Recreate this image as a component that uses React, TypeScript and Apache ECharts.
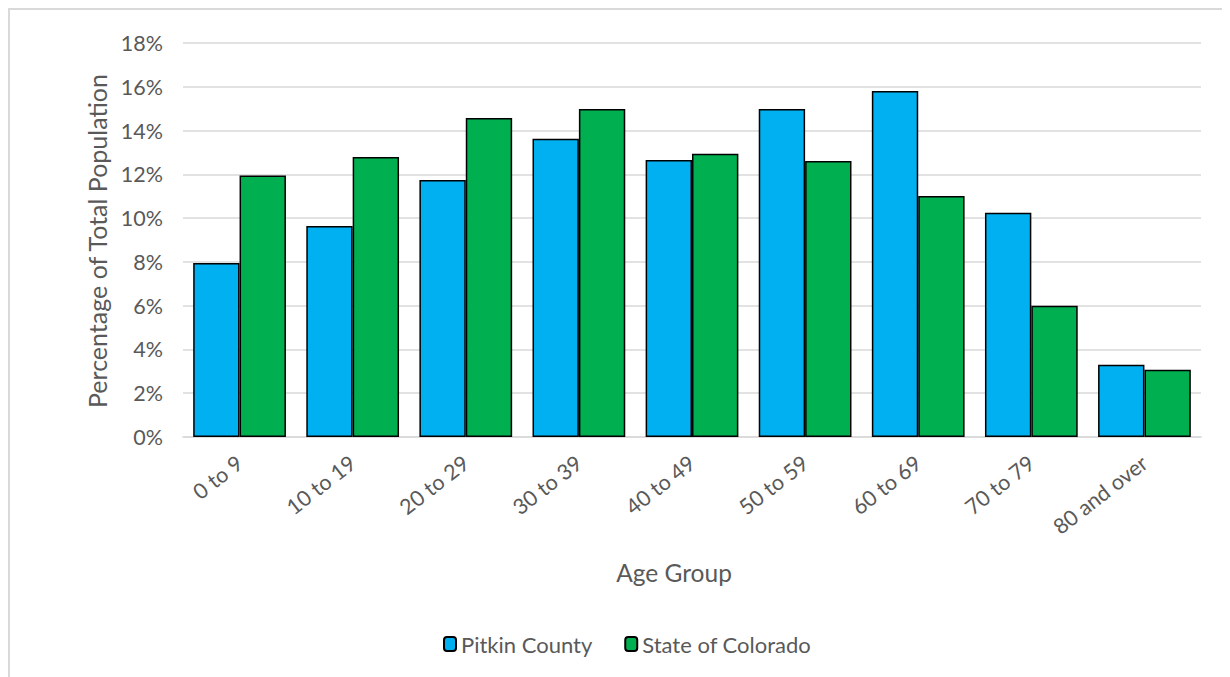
import React, { useEffect, useRef } from "react";
import * as echarts from "echarts";

const categories = ["0 to 9", "10 to 19", "20 to 29", "30 to 39", "40 to 49", "50 to 59", "60 to 69", "70 to 79", "80 and over"];
const pitkin = [7.95, 9.64, 11.74, 13.62, 12.65, 14.98, 15.81, 10.25, 3.3];
const colorado = [11.95, 12.79, 14.57, 14.98, 12.94, 12.61, 11.01, 6.0, 3.07];
const yTicks = { min: 0, max: 18, interval: 2 };

const FONT = "Lato, 'Open Sans', sans-serif";
const TXT = "#595959";

export default function App() {
  const ref = useRef<HTMLDivElement>(null);
  useEffect(() => {
    const chart = echarts.init(ref.current!, undefined, { renderer: "svg" });
    chart.setOption({
      animation: false,
      textStyle: { fontFamily: FONT },
      grid: { left: 175, top: 35, right: 29, bottom: 240, containLabel: false },
      legend: {
        top: 620,
        left: 430,
        itemWidth: 12,
        itemHeight: 14,
        itemGap: 32,
        textStyle: { fontSize: 22, color: TXT, fontFamily: FONT },
        data: ["Pitkin County", "State of Colorado"],
      },
      xAxis: {
        type: "category",
        data: categories,
        axisLine: { lineStyle: { color: "#d9d9d9", width: 1.5 } },
        axisTick: { show: false },
        axisLabel: { rotate: 38, fontSize: 21.5, color: TXT, margin: 23, interval: 0 },
      },
      yAxis: {
        type: "value",
        min: yTicks.min,
        max: yTicks.max,
        interval: yTicks.interval,
        axisLine: { show: false },
        axisTick: { show: false },
        axisLabel: { formatter: "{value}%", fontSize: 21.5, color: TXT, margin: 20 },
        splitLine: { lineStyle: { color: "#d9d9d9", width: 1.5 } },
      },
      series: [
        {
          name: "Pitkin County",
          type: "bar",
          data: pitkin,
          barGap: "0%",
          barCategoryGap: "18%",
          itemStyle: { color: "#00B0F0", borderColor: "#000", borderWidth: 1.5 },
        },
        {
          name: "State of Colorado",
          type: "bar",
          data: colorado,
          barGap: "0%",
          barCategoryGap: "18%",
          itemStyle: { color: "#00B050", borderColor: "#000", borderWidth: 1.5 },
        },
      ],
      graphic: [
        { type: "line", shape: { x1: 1, y1: 0, x2: 1, y2: 669 }, style: { stroke: "#d9d9d9", lineWidth: 2 } },
        { type: "line", shape: { x1: 0, y1: 1, x2: 1222, y2: 1 }, style: { stroke: "#d9d9d9", lineWidth: 2 } },
        {
          type: "text",
          x: 89,
          y: 233,
          rotation: Math.PI / 2,
          style: { text: "Percentage of Total Population", fill: TXT, fontSize: 25, fontFamily: FONT, align: "center", verticalAlign: "middle" },
        },
        {
          type: "text",
          x: 666,
          y: 564,
          style: { text: "Age Group", fill: TXT, fontSize: 24.5, fontFamily: FONT, align: "center", verticalAlign: "middle" },
        },
      ],
    });
    return () => chart.dispose();
  }, []);
  return <div ref={ref} style={{ width: 1222, height: 669 }} />;
}
